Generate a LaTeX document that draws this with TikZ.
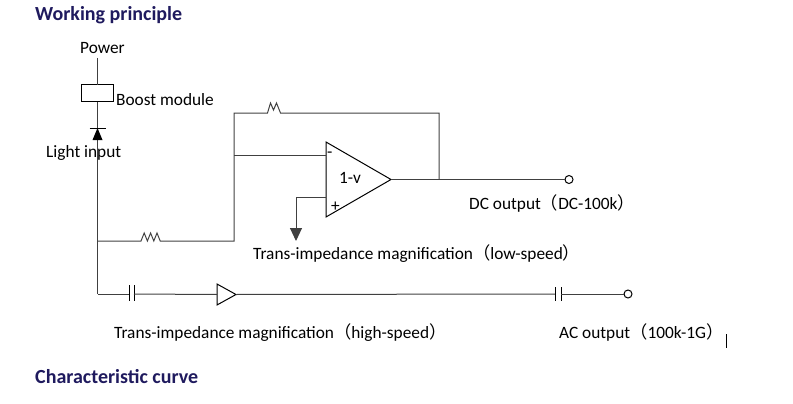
\documentclass[tikz,border=0pt]{standalone}
\usepackage{fontspec}
\setmainfont{Carlito}
\newfontfamily\cjk{Noto Sans CJK SC}
\usetikzlibrary{shapes.geometric}
\usetikzlibrary{positioning}
\usetikzlibrary{arrows.meta}
\definecolor{headblue}{HTML}{1F1A5E}
\newcommand{\lpar}{{\cjk （}}
\newcommand{\rpar}{{\cjk ）}}

\begin{document}
\begin{tikzpicture}[x=1pt,y=-1pt,
    wire/.style={draw=black!75,line width=1pt},
    part/.style={draw,line width=1pt,inner sep=0pt,outer sep=0pt},
    amp/.style={part,isosceles triangle,isosceles triangle stretches},
    term/.style={part,circle,minimum size=8pt},
    txt/.style={font=\fontsize{17.3}{20}\selectfont,inner sep=0pt,anchor=base west},
    head/.style={font=\fontsize{20}{24}\selectfont\bfseries,text=headblue,inner sep=0pt,anchor=base west}]
  \useasboundingbox (0,0) rectangle (793,404);

  \node[head] (title) at (35,21) {Working principle};
  \node[head] (curve) at (35,383) {Characteristic curve};

  % supply and photodiode
  \node[txt] (power) at (80,54) {Power};
  \node[part,rectangle,minimum width=32pt,minimum height=17pt] (boost) at (97.5,93.5) {};
  \node[txt] (boostlbl) at (116,106) {Boost module};
  \node[txt] (light) at (46,157) {Light input};
  \coordinate (pw) at (97.5,58);
  \coordinate (dk) at (97.5,128);
  \coordinate (jlow) at (97.5,241);
  \coordinate (jhigh) at (97.5,294);
  \draw[wire] (pw) -- (boost.north);
  \draw[wire] (boost.south) -- (jhigh);
  \draw[part] ([xshift=-8pt]dk) -- ([xshift=8pt]dk);
  \fill (dk) -- ++(-5,12) -- ++(10,0) -- cycle;

  % low-speed stage
  \node[amp,minimum height=65pt,minimum width=75pt,anchor=west] (op) at (326,179.5) {};
  \node[txt] (gain) at (339,183) {1-v};
  \node[txt] (minus) at (327,157) {-};
  \node[txt] (plus) at (331,211) {+};
  \coordinate (inm) at (326,155);
  \coordinate (inp) at (326,197);
  \coordinate (fbl) at (234,155);
  \coordinate (fbr) at (439,179.5);
  \node[term] (dcout) at (569,179.5) {};
  \draw[wire] (jlow) -- (141,241) -- ++(3.2,-8) -- ++(3.2,8) -- ++(3.2,-8) -- ++(3.2,8)
    -- ++(3.2,-8) -- ++(3.2,8) -- (234,241) -- (fbl) -- (234,113) -- (267.5,113)
    -- ++(3,-10) -- ++(3,7) -- ++(3,-7) -- ++(4,10) -- (439,113) -- (fbr);
  \draw[wire] (fbl) -- (inm);
  \draw[wire] (op.apex) -- (dcout.west);
  \draw[wire,-{Triangle[width=12pt,length=13pt]}] (inp) -- (296,197) -- (296,241);
  \node[txt] (dclbl) at (469,209) {DC output\lpar DC-100k\rpar};
  \node[txt] (lowlbl) at (253,259) {Trans-impedance magnification\lpar low-speed\rpar};

  % high-speed stage
  \node[amp,minimum height=19pt,minimum width=21pt,anchor=west] (buf) at (217,294.5) {};
  \node[term] (acout) at (628,294) {};
  \coordinate (ca) at (129,294);
  \coordinate (cb) at (134,294);
  \coordinate (cc) at (555,294);
  \coordinate (cd) at (561,294);
  \draw[wire] (jhigh) -- (ca);
  \draw[part] (129,285) -- (129,301) (134,285) -- (134,301);
  \draw[wire] (cb) -- (buf.west);
  \draw[wire] (buf.apex) -- (cc);
  \draw[part] (555,287) -- (555,301) (561,287) -- (561,301);
  \draw[wire] (cd) -- (acout.west);
  \node[txt] (highlbl) at (114,338) {Trans-impedance magnification\lpar high-speed\rpar};
  \node[txt] (aclbl) at (559,338) {AC output\lpar 100k-1G\rpar};
  \draw[line width=1pt] (726,334) -- (726,348);
\end{tikzpicture}
\end{document}
